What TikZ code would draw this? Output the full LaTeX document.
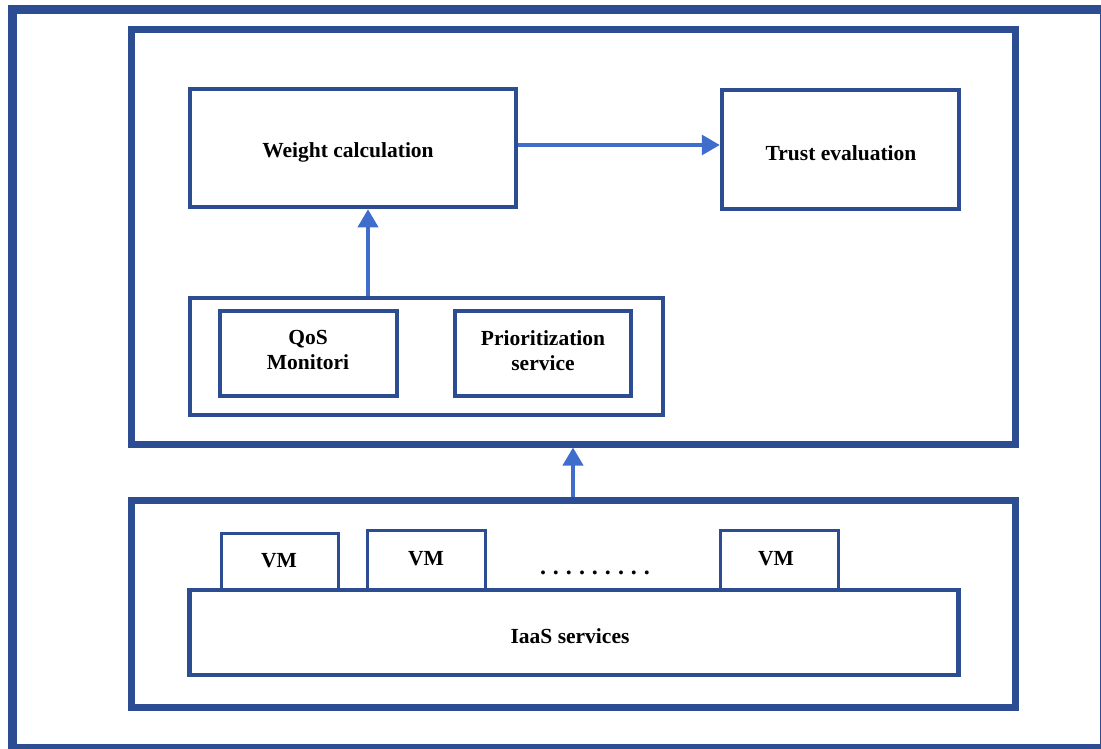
\documentclass[tikz,border=0pt]{standalone}
\usepackage{fontspec}
\setmainfont{Liberation Serif}
\usetikzlibrary{arrows.meta,calc}
\definecolor{boxblue}{HTML}{2D4D93}
\definecolor{arrblue}{HTML}{3F6DCC}
\begin{document}
\begin{tikzpicture}[x=1pt,y=-1pt,
  every node/.style={font=\fontsize{21.5}{25}\selectfont\bfseries, text=black, inner sep=0pt},
  outerbox/.style={draw=boxblue, line width=9pt},
  levelbox/.style={draw=boxblue, line width=7pt},
  innerbox/.style={draw=boxblue, line width=4.5pt},
  smallbox/.style={draw=boxblue, line width=3.5pt},
  vmbox/.style={draw=boxblue, line width=3pt},
  arr/.style={draw=arrblue, line width=3.8pt, -{Triangle[length=18pt,width=20pt]}},
  harr/.style={draw=arrblue, line width=3.2pt, -{Triangle[length=18pt,width=20pt]}}]
\useasboundingbox (0,0) rectangle (1101,749);
% outer frame
\draw[outerbox] (12,10) rectangle (1104,748);
% level boxes
\node[levelbox, minimum width=884pt, minimum height=414pt] (upper) at (573,237) {};
\node[levelbox, minimum width=884pt, minimum height=207pt] (lower) at (573,603.5) {};
% upper contents
\node[innerbox, minimum width=326pt, minimum height=118pt] (wc) at (353,148) {};
\node at (348,152) {Weight calculation};
\node[innerbox, minimum width=237pt, minimum height=119pt] (trust) at (840.5,149.5) {};
\node at (841,153) {Trust evaluation};
\node[innerbox, minimum width=473pt, minimum height=117pt] (cont) at (426.5,356.5) {};
\node[smallbox, minimum width=177pt, minimum height=85pt] (qos) at (308.5,353.5) {};
\node[align=center] at (308,350) {QoS\\Monitori};
\node[smallbox, minimum width=176pt, minimum height=85pt] (prio) at (543,353.5) {};
\node[align=center] at (543,351) {Prioritization\\service};
% lower contents
\node[innerbox, minimum width=769pt, minimum height=85pt] (iaas) at (574,632.5) {};
\node at (570,636) {IaaS services};
\node[vmbox, minimum width=117pt, minimum height=56pt] (vm1) at (279.5,561.5) {};
\node at (279,561) {VM};
\node[vmbox, minimum width=118pt, minimum height=59pt] (vm2) at (426,560) {};
\node at (426,559) {VM};
\node[vmbox, minimum width=118pt, minimum height=59pt] (vm3) at (779,560) {};
\node at (776,559) {VM};
\node[font=\fontsize{24}{28}\selectfont\bfseries] (dots) at (595,573) {.\hspace{7pt}.\hspace{7pt}.\hspace{7pt}.\hspace{7pt}.\hspace{7pt}.\hspace{7pt}.\hspace{7pt}.\hspace{7pt}.};
% arrows
\draw[harr] ([yshift=3pt]wc.east) -- ([yshift=3pt]wc.east -| trust.west);
\draw[arr] ([xshift=15pt]wc.south |- cont.north) -- ([xshift=15pt]wc.south);
\draw[arr] (lower.north) -- (upper.south);
\end{tikzpicture}
\end{document}
